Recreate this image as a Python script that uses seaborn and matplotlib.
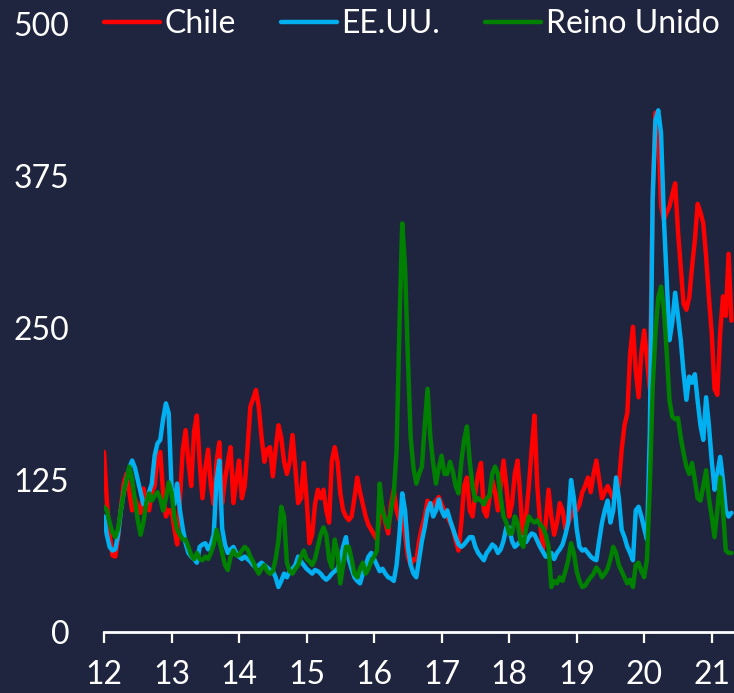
import matplotlib
matplotlib.use("Agg")
import matplotlib.pyplot as plt
import numpy as np
import pandas as pd
import seaborn as sns

BG = "#20253f"

# semi-monthly readings, starting Jan 2012 (two points per month)
chile = [
    148, 108, 80, 63, 62, 78, 102, 122, 130, 115, 100, 110, 102, 98, 118, 108, 100, 115, 120, 145, 148, 115, 95, 100,
    100, 85, 72, 110, 150, 166, 140, 120, 165, 178, 140, 110, 135, 150, 120, 105, 140, 156, 106, 125, 140, 152, 106, 125,
    141, 110, 120, 150, 185, 192, 199, 185, 160, 140, 150, 152, 128, 150, 170, 160, 140, 130, 140, 162, 135, 106, 110, 139,
    110, 73, 80, 105, 117, 110, 117, 100, 90, 141, 152, 140, 114, 100, 95, 92, 95, 110, 127, 115, 105, 95, 88, 84,
    80, 76, 95, 103, 90, 81, 105, 117, 100, 92, 95, 80, 62, 55, 60, 59, 75, 86, 95, 108, 100, 105, 108, 111,
    105, 100, 95, 90, 85, 75, 67, 90, 120, 127, 100, 95, 115, 130, 139, 100, 95, 110, 125, 115, 100, 120, 141, 120,
    95, 105, 130, 141, 110, 73, 95, 120, 150, 178, 120, 90, 67, 90, 117, 95, 80, 90, 106, 100, 85, 90, 95, 100,
    100, 105, 115, 120, 127, 115, 130, 141, 125, 110, 115, 120, 115, 110, 112, 122, 150, 170, 180, 229, 251, 215, 193, 230,
    248, 224, 200, 360, 427, 410, 350, 339, 345, 350, 360, 369, 330, 300, 270, 265, 275, 300, 322, 352, 345, 336, 309, 275,
    246, 200, 195, 246, 276, 260, 311, 256,
]
eeuu = [
    95, 80, 70, 67, 68, 80, 100, 115, 125, 135, 141, 135, 125, 115, 105, 105, 115, 122, 145, 155, 158, 175, 188, 180,
    119, 105, 122, 100, 85, 73, 65, 62, 60, 57, 70, 72, 73, 68, 72, 80, 125, 141, 85, 72, 65, 68, 70, 65,
    62, 60, 62, 60, 58, 55, 53, 55, 57, 55, 53, 51, 50, 45, 37, 42, 48, 45, 50, 52, 55, 62, 58, 55,
    52, 50, 48, 51, 50, 48, 45, 43, 45, 48, 50, 52, 60, 70, 78, 60, 52, 45, 42, 40, 48, 55, 62, 65,
    60, 55, 50, 52, 48, 45, 44, 42, 55, 80, 114, 100, 70, 55, 48, 45, 60, 75, 86, 100, 106, 95, 100, 109,
    100, 95, 100, 92, 85, 78, 72, 70, 72, 75, 78, 78, 70, 65, 62, 59, 65, 68, 72, 70, 65, 68, 75, 86,
    86, 75, 70, 72, 75, 78, 74, 78, 81, 80, 75, 70, 66, 62, 62, 65, 60, 65, 68, 72, 80, 90, 125, 110,
    85, 70, 67, 68, 65, 62, 60, 59, 75, 90, 100, 108, 90, 100, 127, 110, 84, 78, 70, 65, 59, 100, 103, 95,
    85, 76, 164, 355, 421, 429, 410, 340, 290, 240, 255, 279, 260, 240, 213, 191, 210, 205, 212, 190, 170, 158, 193, 170,
    141, 117, 130, 144, 125, 100, 95, 98,
]
reino_unido = [
    103, 100, 90, 82, 78, 85, 100, 115, 125, 136, 125, 108, 92, 80, 90, 106, 114, 108, 112, 115, 110, 100, 110, 123,
    115, 95, 84, 80, 76, 76, 70, 63, 60, 65, 60, 59, 62, 60, 65, 72, 84, 75, 65, 55, 51, 62, 67, 63,
    63, 67, 70, 68, 62, 58, 52, 48, 52, 55, 50, 48, 50, 60, 75, 103, 95, 57, 50, 48, 52, 55, 62, 67,
    60, 58, 55, 60, 70, 80, 86, 80, 60, 53, 76, 65, 40, 55, 70, 70, 60, 48, 45, 52, 57, 48, 52, 58,
    62, 67, 122, 100, 92, 86, 100, 114, 150, 250, 336, 300, 226, 160, 135, 122, 130, 136, 170, 200, 160, 139, 122, 135,
    145, 130, 130, 140, 132, 120, 114, 140, 158, 169, 140, 120, 108, 110, 108, 105, 110, 112, 130, 136, 130, 110, 95, 90,
    81, 81, 95, 90, 75, 70, 85, 95, 92, 90, 92, 88, 86, 80, 70, 37, 42, 40, 45, 42, 50, 59, 73, 65,
    50, 42, 37, 38, 42, 45, 48, 53, 50, 45, 48, 52, 60, 70, 65, 55, 50, 45, 40, 43, 37, 55, 57, 50,
    45, 60, 120, 200, 246, 275, 284, 265, 230, 190, 177, 175, 176, 160, 147, 136, 130, 139, 125, 110, 108, 120, 133, 110,
    95, 78, 100, 127, 100, 67, 65, 65,
]

series_names = ["Chile", "EE.UU.", "Reino Unido"]
series_colors = ["#ff0000", "#00b0f0", "#008000"]
year_ticks = [12, 13, 14, 15, 16, 17, 18, 19, 20, 21]
y_ticks = [0, 125, 250, 375, 500]

t = 12 + np.arange(len(chile)) / 24
df = pd.concat(
    [
        pd.DataFrame({"t": t, "valor": vals, "pais": name})
        for name, vals in zip(series_names, [chile, eeuu, reino_unido])
    ],
    ignore_index=True,
)

sns.set_style("white", {"axes.facecolor": BG, "figure.facecolor": BG})
plt.rcParams["font.family"] = ["Lato", "DejaVu Sans"]

fig = plt.figure(figsize=(7.34, 6.93), dpi=100, facecolor=BG)
ax = fig.add_axes([104 / 734, 1 - 632 / 693, 1 - 104 / 734, (632 - 24) / 693])
ax.set_facecolor(BG)

sns.lineplot(
    data=df, x="t", y="valor", hue="pais", hue_order=series_names,
    palette=series_colors, linewidth=3.2, ax=ax, legend=True,
)

ax.set_xlim(12, 21.33)
ax.set_ylim(0, 500)
ax.set_xticks(year_ticks)
ax.set_xticklabels([str(y) for y in year_ticks])
ax.set_yticks(y_ticks)
ax.set_yticklabels([str(v) for v in y_ticks])
ax.set_xlabel("")
ax.set_ylabel("")

for side in ["left", "top", "right"]:
    ax.spines[side].set_visible(False)
ax.spines["bottom"].set_color("white")
ax.spines["bottom"].set_linewidth(2)
ax.spines["bottom"].set_clip_on(False)

ax.tick_params(axis="x", bottom=True, colors="white", labelsize=23, length=8,
               width=1.6, pad=12, direction="out")
ax.tick_params(axis="y", left=False, colors="white", labelsize=23, length=0, pad=25)

handles, labels = ax.get_legend_handles_labels()
ax.legend(
    handles, labels, ncol=3, loc="center left",
    bbox_to_anchor=(104 / 734, 1 - 24 / 693), bbox_transform=fig.transFigure,
    frameon=False, fontsize=23, labelcolor="white",
    handlelength=1.75, handletextpad=0.15, columnspacing=1.4,
    borderpad=0, borderaxespad=0,
)

fig.savefig("out.png", dpi=100, facecolor=BG)
